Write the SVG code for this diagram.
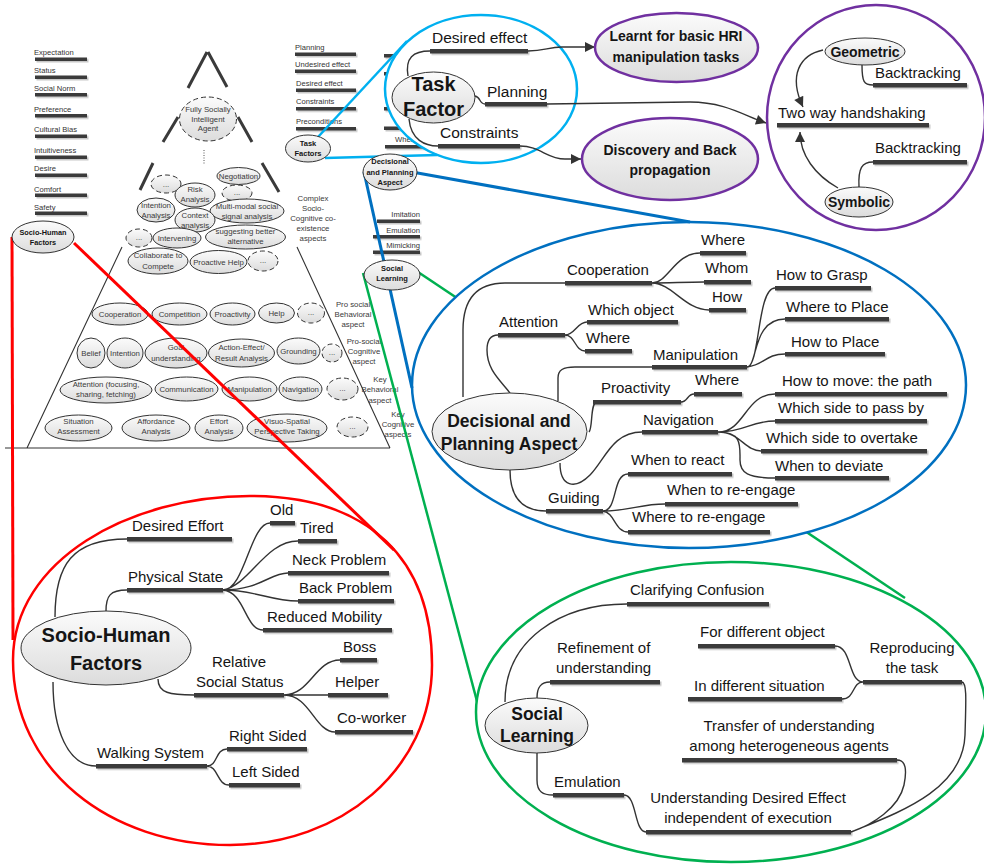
<svg xmlns="http://www.w3.org/2000/svg" width="984" height="867" viewBox="0 0 984 867">
<defs>
<linearGradient id="g" x1="0" y1="0" x2="0" y2="1"><stop offset="0" stop-color="#fbfbfb"/><stop offset="1" stop-color="#dcdcdc"/></linearGradient>
<filter id="sh" x="-5%" y="-60%" width="112%" height="260%"><feDropShadow dx="1.5" dy="1.5" stdDeviation="0.7" flood-color="#000" flood-opacity="0.22"/></filter>
<marker id="ah" viewBox="0 0 10 10" refX="10" refY="5" markerWidth="14" markerHeight="10" orient="auto" markerUnits="userSpaceOnUse"><path d="M0,0 L10,5 L0,10 z" fill="#333"/></marker>
<style>
text{font-family:"Liberation Sans",Arial,sans-serif;fill:#151515}
.s7{font-size:7.6px;fill:#333}
.s8{font-size:7.8px;fill:#3a3a3a}
.s15{font-size:15px}
.b{font-weight:bold}
.m{text-anchor:middle}
.e{text-anchor:end}
.bar{fill:#3a3a3a;filter:url(#sh)}
.el{fill:url(#g);stroke:#333;stroke-width:1}
.dash{stroke-dasharray:5,3}
.cn{fill:none;stroke:#333;stroke-width:1.4}
.pl{fill:none;stroke:#3a3a3a;stroke-width:3}
.tl{fill:none;stroke:#333;stroke-width:1.1}
.pu{stroke:#7030a0;stroke-width:2.5}
</style>
</defs>
<rect width="984" height="867" fill="#fff"/>

<!-- Pyramid -->
<g id="pyramid">
<path class="pl" d="M207,52 L188,88 M208,52 L227,87 M178,117 L163,142 M238,117 L252,142 M153,163 L140,190 M262,163 L279,192"/>
<path d="M204,150 L204,164" stroke="#555" stroke-width="1" stroke-dasharray="1,1.5"/>
<path class="tl" d="M122,247 L27,448 M297,247 L390,448 M5,448 L390,448"/>
<g id="p-agent"><ellipse class="el dash" cx="208" cy="119" rx="28.5" ry="22"/><text class="s8 m" x="208" y="112">Fully Socially</text><text class="s8 m" x="208" y="121.5">Intelligent</text><text class="s8 m" x="208" y="131">Agent</text></g>
<g id="p-d1"><ellipse class="el dash" cx="166" cy="184" rx="15" ry="9"/><text class="s8 m" x="166" y="187">...</text></g>
<g id="p-risk"><ellipse class="el" cx="195" cy="195" rx="20" ry="12"/><text class="s8 m" x="195" y="192">Risk</text><text class="s8 m" x="195" y="202">Analysis</text></g>
<g id="p-neg"><ellipse class="el" cx="238.5" cy="176" rx="21.5" ry="8.5"/><text class="s8 m" x="238.5" y="179">Negotiation</text></g>
<g id="p-d2"><ellipse class="el dash" cx="237" cy="193" rx="15" ry="8"/><text class="s8 m" x="237" y="195">...</text></g>
<g id="p-int"><ellipse class="el" cx="156" cy="210" rx="19" ry="12"/><text class="s8 m" x="156" y="207.5">Intention</text><text class="s8 m" x="156" y="217.5">Analysis</text></g>
<g id="p-multi"><ellipse class="el" cx="247" cy="211" rx="37" ry="12"/><text class="s8 m" x="247" y="208.5">Multi-modal social</text><text class="s8 m" x="247" y="218.5">signal analysis</text></g>
<g id="p-ctx"><ellipse class="el" cx="195" cy="220" rx="20" ry="12"/><text class="s8 m" x="195" y="217.5">Context</text><text class="s8 m" x="195" y="227.5">analysis</text></g>
<g id="p-d3"><ellipse class="el dash" cx="139" cy="238" rx="13" ry="9"/><text class="s8 m" x="139" y="240">...</text></g>
<g id="p-interv"><ellipse class="el" cx="177" cy="238" rx="24" ry="10"/><text class="s8 m" x="177" y="241">Intervening</text></g>
<g id="p-sugg"><ellipse class="el" cx="245.5" cy="237" rx="40" ry="12"/><text class="s8 m" x="245.5" y="233.5">suggesting better</text><text class="s8 m" x="245.5" y="243.5">alternative</text></g>
<g id="p-collab"><ellipse class="el" cx="158" cy="261" rx="30" ry="13"/><text class="s8 m" x="158" y="257.5">Collaborate to</text><text class="s8 m" x="158" y="268.5">Compete</text></g>
<g id="p-proh"><ellipse class="el" cx="218.5" cy="262" rx="28.5" ry="11.5"/><text class="s8 m" x="218.5" y="265">Proactive Help</text></g>
<g id="p-d4"><ellipse class="el dash" cx="263" cy="261" rx="15" ry="10"/><text class="s8 m" x="263" y="263">...</text></g>
<g id="p-complex"><text class="s8 m" x="313" y="201">Complex</text><text class="s8 m" x="313" y="211">Socio-</text><text class="s8 m" x="313" y="221">Cognitive co-</text><text class="s8 m" x="313" y="231">existence</text><text class="s8 m" x="313" y="241">aspects</text></g>
<!-- row 1 -->
<g id="r1-coop"><ellipse class="el" cx="120" cy="314" rx="28" ry="11"/><text class="s8 m" x="120" y="317">Cooperation</text></g>
<g id="r1-comp"><ellipse class="el" cx="179.5" cy="314" rx="27.5" ry="11"/><text class="s8 m" x="179.5" y="317">Competition</text></g>
<g id="r1-proa"><ellipse class="el" cx="232.5" cy="314" rx="22.5" ry="11"/><text class="s8 m" x="232.5" y="317">Proactivity</text></g>
<g id="r1-help"><ellipse class="el" cx="276.5" cy="313" rx="18" ry="10"/><text class="s8 m" x="276.5" y="316">Help</text></g>
<g id="r1-d"><ellipse class="el dash" cx="311" cy="313" rx="13.5" ry="10"/><text class="s8 m" x="311" y="315">...</text></g>
<g id="r1-lab"><text class="s8 m" x="353" y="307">Pro social</text><text class="s8 m" x="353" y="317">Behavioral</text><text class="s8 m" x="353" y="327">aspect</text></g>
<!-- row 2 -->
<g id="r2-bel"><ellipse class="el" cx="91" cy="353" rx="14" ry="15"/><text class="s8 m" x="91" y="356">Belief</text></g>
<g id="r2-int"><ellipse class="el" cx="125" cy="353" rx="18" ry="15"/><text class="s8 m" x="125" y="356">Intention</text></g>
<g id="r2-goal"><ellipse class="el" cx="176" cy="353" rx="31" ry="15"/><text class="s8 m" x="176" y="350">Goal</text><text class="s8 m" x="176" y="361">understanding</text></g>
<g id="r2-act"><ellipse class="el" cx="241.5" cy="353" rx="33" ry="14"/><text class="s8 m" x="241.5" y="350">Action-Effect/</text><text class="s8 m" x="241.5" y="361">Result Analysis</text></g>
<g id="r2-gr"><ellipse class="el" cx="298.5" cy="351" rx="21.5" ry="13"/><text class="s8 m" x="298.5" y="354">Grounding</text></g>
<g id="r2-d"><ellipse class="el dash" cx="332" cy="353" rx="10" ry="9"/><text class="s8 m" x="332" y="355">...</text></g>
<g id="r2-lab"><text class="s8 m" x="364" y="344">Pro-social</text><text class="s8 m" x="364" y="354">Cognitive</text><text class="s8 m" x="364" y="364">aspect</text></g>
<!-- row 3 -->
<g id="r3-att"><ellipse class="el" cx="106" cy="390" rx="46" ry="13"/><text class="s8 m" x="106" y="387">Attention (focusing,</text><text class="s8 m" x="106" y="397">sharing, fetching)</text></g>
<g id="r3-com"><ellipse class="el" cx="186.5" cy="389" rx="31.5" ry="12"/><text class="s8 m" x="186.5" y="392">Communication</text></g>
<g id="r3-man"><ellipse class="el" cx="249.5" cy="389" rx="27.5" ry="12"/><text class="s8 m" x="249.5" y="392">Manipulation</text></g>
<g id="r3-nav"><ellipse class="el" cx="300.5" cy="389" rx="21.5" ry="12"/><text class="s8 m" x="300.5" y="392">Navigation</text></g>
<g id="r3-d"><ellipse class="el dash" cx="342.5" cy="389" rx="15.5" ry="11"/><text class="s8 m" x="342.5" y="391">...</text></g>
<g id="r3-lab"><text class="s8 m" x="380" y="382">Key</text><text class="s8 m" x="380" y="392">Behavioral</text><text class="s8 m" x="380" y="403">aspect</text></g>
<!-- row 4 -->
<g id="r4-sit"><ellipse class="el" cx="78.5" cy="428" rx="33.5" ry="13"/><text class="s8 m" x="78.5" y="423.5">Situation</text><text class="s8 m" x="78.5" y="434">Assessment</text></g>
<g id="r4-aff"><ellipse class="el" cx="156" cy="428" rx="34" ry="13"/><text class="s8 m" x="156" y="423.5">Affordance</text><text class="s8 m" x="156" y="434">Analysis</text></g>
<g id="r4-eff"><ellipse class="el" cx="219" cy="428" rx="24" ry="13"/><text class="s8 m" x="219" y="423.5">Effort</text><text class="s8 m" x="219" y="434">Analysis</text></g>
<g id="r4-vis"><ellipse class="el" cx="287" cy="428" rx="40" ry="14"/><text class="s8 m" x="287" y="423.5">Visuo-Spatial</text><text class="s8 m" x="287" y="434">Perspective Taking</text></g>
<g id="r4-d"><ellipse class="el dash" cx="352.5" cy="427" rx="15.5" ry="10"/><text class="s8 m" x="352.5" y="429">...</text></g>
<g id="r4-lab"><text class="s8 m" x="398" y="416.5">Key</text><text class="s8 m" x="398" y="426.5">Cognitive</text><text class="s8 m" x="398" y="436.5">aspects</text></g>
</g>

<!-- small lists -->
<g id="list-socio">
<text class="s7" x="34" y="55">Expectation</text><rect class="bar" x="35" y="57.5" width="52" height="3.5"/>
<text class="s7" x="34" y="73">Status</text><rect class="bar" x="35" y="75.5" width="52" height="3.5"/>
<text class="s7" x="34" y="91">Social Norm</text><rect class="bar" x="35" y="93" width="52" height="3.5"/>
<text class="s7" x="34" y="112">Preference</text><rect class="bar" x="35" y="114" width="52" height="3.5"/>
<text class="s7" x="34" y="132">Cultural Bias</text><rect class="bar" x="35" y="134.5" width="52" height="3.5"/>
<text class="s7" x="34" y="152.5">Intuitiveness</text><rect class="bar" x="35" y="155.5" width="52" height="3.5"/>
<text class="s7" x="34" y="170.5">Desire</text><rect class="bar" x="35" y="173.5" width="52" height="3.5"/>
<text class="s7" x="34" y="191.5">Comfort</text><rect class="bar" x="35" y="193.5" width="52" height="3.5"/>
<text class="s7" x="34" y="210">Safety</text><rect class="bar" x="35" y="211.5" width="52" height="3.5"/>
</g>
<g id="list-task">
<text class="s7" x="295" y="50">Planning</text><rect class="bar" x="295" y="52.5" width="61" height="3.5"/>
<text class="s7" x="295" y="67">Undesired effect</text><rect class="bar" x="295" y="69.5" width="61" height="3.5"/>
<text class="s7" x="296" y="86">Desired effect</text><rect class="bar" x="296" y="88.5" width="60" height="3.5"/>
<text class="s7" x="296" y="104">Constraints</text><rect class="bar" x="296" y="107" width="60" height="3.5"/>
<text class="s7" x="296" y="124">Preconditions</text><rect class="bar" x="296" y="127" width="60" height="3.5"/>
</g>
<g id="list-hidden">
<rect class="bar" x="384" y="54" width="60" height="3.5"/>
<rect class="bar" x="384" y="72" width="60" height="3.5"/>
<rect class="bar" x="384" y="90" width="60" height="3.5"/>
<rect class="bar" x="384" y="107" width="60" height="3.5"/>
<rect class="bar" x="384" y="126.5" width="60" height="3.5"/>
<text class="s7" x="395" y="141.5">Where</text><rect class="bar" x="385" y="145" width="50" height="3.5"/>
</g>
<g id="list-social">
<text class="s7 e" x="420" y="217">Imitation</text><rect class="bar" x="377" y="219.5" width="43" height="3.5"/>
<text class="s7 e" x="420" y="232.5">Emulation</text><rect class="bar" x="373" y="235" width="47" height="3.5"/>
<text class="s7 e" x="420" y="248">Mimicking</text><rect class="bar" x="373" y="250.5" width="47" height="3.5"/>
</g>

<!-- connectors between areas -->
<g id="connectors">
<path d="M418,272 L905,598" stroke="#00b050" stroke-width="2.5" fill="none"/>
<path d="M363,273 L478,705" stroke="#00b050" stroke-width="2.5" fill="none"/>
</g>

<!-- Task Factor area -->
<g id="task-factor-area">
<ellipse cx="481" cy="89" rx="96" ry="74" fill="#fff" stroke="#00b0f0" stroke-width="2.5"/>
<path class="cn" d="M408,76 C405,58 413,51 430,51 M475,96 C481,97 479,104 485,104 M409,119 C411,140 425,146 438,146"/>
<g id="task-factor"><ellipse class="el" cx="433.5" cy="97.5" rx="41.5" ry="25.5"/><text class="b m" font-size="20" x="433.5" y="91">Task</text><text class="b m" font-size="20" x="433.5" y="116">Factor</text></g>
<g id="tf-desired"><text font-size="15.5" x="432" y="43">Desired effect</text><rect class="bar" x="430" y="49" width="98" height="4.5"/></g>
<g id="tf-planning"><text font-size="15.5" x="487" y="97">Planning</text><rect class="bar" x="485" y="102" width="62" height="4.5"/></g>
<g id="tf-constraints"><text font-size="15.5" x="440" y="138">Constraints</text><rect class="bar" x="438" y="144" width="82" height="4.5"/></g>
</g>

<!-- Blue area -->
<g id="decisional-area">
<ellipse cx="689" cy="385" rx="277" ry="163" fill="#fff" stroke="#0070c0" stroke-width="2.5"/>
<path class="cn" d="M463,397 L463,330 C463,297 478,283 505,283 L565,283
M652,283 C668,283 675,253 700,253 M652,283 C670,283 685,282 704,282 M652,283 C672,283 685,310 709,310
M510,393 C500,380 487,370 487,350 C487,340 490,335 498,335
M565,335 C575,335 577,322 587,322 M565,335 C575,335 575,351 585,351
M558,401 L558,378 C558,370 563,367 575,367 L652,367
M747,367 C760,367 757,288 775,288 M747,367 C758,366 752,319 785,319 M747,367 C765,365 765,354 785,354
M589,432 C593,428 590,402 597,402 M681,402 C688,402 687,394 694,394
M560,463 C560,487 575,490 590,475 C605,460 612,432 642,432
M718,432 C745,432 745,394 775,394 M718,432 C745,432 750,421 775,421 M718,432 C740,432 745,451 761,451 M718,432 C742,432 740,445 740,460 C740,473 748,478 775,478
M510,470 C510,498 522,511 546,511
M603,511 C618,511 612,474 628,474 M603,511 C630,511 640,504 665,504 M603,511 C615,513 615,532 628,532"/>
<g id="dpa-big"><ellipse class="el" cx="509.5" cy="431.5" rx="77.5" ry="38.5"/><text class="b m" font-size="17.5" x="509" y="427">Decisional and</text><text class="b m" font-size="17.5" x="509" y="450">Planning Aspect</text></g>
<g id="d-coop"><text class="s15" x="567" y="275">Cooperation</text><rect class="bar" x="565" y="281" width="87" height="4.5"/></g>
<g id="d-where1"><text class="s15" x="701" y="245">Where</text><rect class="bar" x="700" y="251" width="46" height="4.5"/></g>
<g id="d-whom"><text class="s15" x="705" y="273">Whom</text><rect class="bar" x="704" y="280" width="47" height="4.5"/></g>
<g id="d-how"><text class="s15" x="712" y="302">How</text><rect class="bar" x="709" y="308" width="37" height="4.5"/></g>
<g id="d-att"><text class="s15" x="499" y="327">Attention</text><rect class="bar" x="498" y="333" width="67" height="4.5"/></g>
<g id="d-which"><text class="s15" x="588" y="315">Which object</text><rect class="bar" x="587" y="320" width="91" height="4.5"/></g>
<g id="d-where2"><text class="s15" x="586" y="343">Where</text><rect class="bar" x="585" y="349" width="47" height="4.5"/></g>
<g id="d-man"><text class="s15" x="653" y="360">Manipulation</text><rect class="bar" x="652" y="365" width="95" height="4.5"/></g>
<g id="d-grasp"><text class="s15" x="776" y="280">How to Grasp</text><rect class="bar" x="775" y="286" width="96" height="4.5"/></g>
<g id="d-wplace"><text class="s15" x="786" y="312">Where to Place</text><rect class="bar" x="785" y="317" width="104" height="4.5"/></g>
<g id="d-hplace"><text class="s15" x="791" y="347">How to Place</text><rect class="bar" x="785" y="352" width="100" height="4.5"/></g>
<g id="d-proa"><text class="s15" x="601" y="393">Proactivity</text><rect class="bar" x="593" y="400" width="88" height="4.5"/></g>
<g id="d-where3"><text class="s15" x="695" y="385">Where</text><rect class="bar" x="694" y="392" width="48" height="4.5"/></g>
<g id="d-nav"><text class="s15" x="643" y="425">Navigation</text><rect class="bar" x="642" y="430" width="76" height="4.5"/></g>
<g id="d-path"><text class="s15" x="782" y="386">How to move: the path</text><rect class="bar" x="775" y="392" width="172" height="4.5"/></g>
<g id="d-pass"><text class="s15" x="778" y="413">Which side to pass by</text><rect class="bar" x="775" y="419" width="152" height="4.5"/></g>
<g id="d-over"><text class="s15" x="766" y="443">Which side to overtake</text><rect class="bar" x="761" y="449" width="166" height="4.5"/></g>
<g id="d-dev"><text class="s15" x="775" y="471">When to deviate</text><rect class="bar" x="775" y="476" width="114" height="4.5"/></g>
<g id="d-guid"><text class="s15" x="548" y="503">Guiding</text><rect class="bar" x="546" y="509" width="57" height="4.5"/></g>
<g id="d-react"><text class="s15" x="631" y="465">When to react</text><rect class="bar" x="628" y="472" width="104" height="4.5"/></g>
<g id="d-reeng"><text class="s15" x="667" y="495">When to re-engage</text><rect class="bar" x="665" y="502" width="133" height="4.5"/></g>
<g id="d-wreeng"><text class="s15" x="632" y="522">Where to re-engage</text><rect class="bar" x="628" y="530" width="142" height="4.5"/></g>
</g>

<!-- Green area -->
<g id="social-area">
<ellipse cx="731" cy="712" rx="255" ry="150" fill="#fff" stroke="#00b050" stroke-width="2.5"/>
<path class="cn" d="M505,702 C505,640 560,604 627,604 M537,698 C537,688 540,682 550,682
M835,646 C852,646 848,682 863,682 M842,699 C855,699 852,682 863,682
M537,753 L537,780 C537,792 543,795 553,795 M624,795 C637,795 634,832 646,832
M962,682 C967,683 966,700 965,735 C963,790 900,812 851,832
M897,760 C906,760 907,770 904,785 C899,808 872,825 851,832"/>
<g id="sl-big"><ellipse class="el" cx="536.5" cy="725.5" rx="51.5" ry="27.5"/><text class="b m" font-size="17.5" x="537" y="720">Social</text><text class="b m" font-size="17.5" x="537" y="742">Learning</text></g>
<g id="s-clar"><text class="s15" x="630" y="595">Clarifying Confusion</text><rect class="bar" x="627" y="602" width="142" height="4.5"/></g>
<g id="s-ref"><text class="s15" x="557" y="653">Refinement of</text><text class="s15" x="556" y="673">understanding</text><rect class="bar" x="550" y="680" width="110" height="4.5"/></g>
<g id="s-fdo"><text class="s15" x="700" y="637">For different object</text><rect class="bar" x="698" y="644" width="137" height="4.5"/></g>
<g id="s-ids"><text class="s15" x="694" y="691">In different situation</text><rect class="bar" x="688" y="697" width="154" height="4.5"/></g>
<g id="s-rep"><text class="s15 m" x="912" y="653">Reproducing</text><text class="s15 m" x="912" y="673">the task</text><rect class="bar" x="863" y="680" width="99" height="4.5"/></g>
<g id="s-trans"><text class="s15 m" x="789" y="731">Transfer of understanding</text><text class="s15 m" x="789" y="751">among heterogeneous agents</text><rect class="bar" x="682" y="758" width="215" height="4.5"/></g>
<g id="s-emu"><text class="s15" x="554" y="787">Emulation</text><rect class="bar" x="553" y="793" width="71" height="4.5"/></g>
<g id="s-und"><text class="s15 m" x="748" y="803">Understanding Desired Effect</text><text class="s15 m" x="748" y="823">independent of execution</text><rect class="bar" x="646" y="830" width="205" height="4.5"/></g>
</g>

<!-- Red area -->
<g id="socio-area">
<path d="M250,496 C370,496 432,560 432,665 C432,770 340,845 230,845 C110,845 13,770 13,660 C13,560 130,496 250,496 Z" fill="#fff" stroke="#ff0000" stroke-width="2.5"/>
<path class="cn" d="M55,617 C55,565 72,539 127,539 M106,611 C106,596 110,590 127,590
M223,590 C245,590 250,523 270,523 M223,590 C250,585 265,541 298,541 M223,590 C260,590 270,573 288,573 M223,590 C255,590 270,601 298,601 M223,590 C245,592 245,630 263,630
M158,679 C158,693 170,695 194,695
M284,695 C310,695 315,660 340,660 M284,695 L328,695 M284,695 C310,695 315,732 335,732
M53,682 C53,730 68,766 96,766
M207,766 C218,766 215,749 227,749 M207,766 C218,766 217,785 229,785"/>
<g id="shf-big"><ellipse class="el" cx="106" cy="648" rx="85" ry="37"/><text class="b m" font-size="20" x="106" y="642">Socio-Human</text><text class="b m" font-size="20" x="106" y="670">Factors</text></g>
<g id="h-eff"><text class="s15" x="132" y="531">Desired Effort</text><rect class="bar" x="127" y="537" width="105" height="4.5"/></g>
<g id="h-phys"><text class="s15" x="128" y="582">Physical State</text><rect class="bar" x="127" y="588" width="96" height="4.5"/></g>
<g id="h-old"><text class="s15" x="270" y="515">Old</text><rect class="bar" x="270" y="521" width="25" height="4.5"/></g>
<g id="h-tired"><text class="s15" x="300" y="533">Tired</text><rect class="bar" x="298" y="539" width="39" height="4.5"/></g>
<g id="h-neck"><text class="s15" x="292" y="565">Neck Problem</text><rect class="bar" x="288" y="571" width="101" height="4.5"/></g>
<g id="h-back"><text class="s15" x="299" y="593">Back Problem</text><rect class="bar" x="298" y="599" width="96" height="4.5"/></g>
<g id="h-mob"><text class="s15" x="267" y="622">Reduced Mobility</text><rect class="bar" x="263" y="628" width="129" height="4.5"/></g>
<g id="h-rel"><text class="s15 m" x="239" y="667">Relative</text><text class="s15" x="196" y="687">Social Status</text><rect class="bar" x="194" y="693" width="90" height="4.5"/></g>
<g id="h-boss"><text class="s15" x="343" y="652">Boss</text><rect class="bar" x="340" y="658" width="37" height="4.5"/></g>
<g id="h-help"><text class="s15" x="335" y="687">Helper</text><rect class="bar" x="328" y="693" width="60" height="4.5"/></g>
<g id="h-cow"><text class="s15" x="337" y="723">Co-worker</text><rect class="bar" x="335" y="730" width="78" height="4.5"/></g>
<g id="h-walk"><text class="s15" x="97" y="758">Walking System</text><rect class="bar" x="96" y="764" width="111" height="4.5"/></g>
<g id="h-right"><text class="s15" x="229" y="741">Right Sided</text><rect class="bar" x="227" y="747" width="80" height="4.5"/></g>
<g id="h-left"><text class="s15" x="232" y="777">Left Sided</text><rect class="bar" x="229" y="783" width="71" height="4.5"/></g>
</g>

<!-- colored links -->
<g id="links">
<path d="M12,237 L13,640" stroke="#ff0000" stroke-width="3" fill="none"/>
<path d="M74,243 L394,550" stroke="#ff0000" stroke-width="3" fill="none"/>
<path d="M364,172 L412,388" stroke="#0070c0" stroke-width="3" fill="none"/>
<path d="M412,172 L690,222" stroke="#0070c0" stroke-width="3" fill="none"/>
<path d="M318,137 L407,41" stroke="#00b0f0" stroke-width="2.5" fill="none"/>
<path d="M325,158 L437,155" stroke="#00b0f0" stroke-width="2.5" fill="none"/>
</g>

<!-- small root nodes -->
<g id="shf-small"><ellipse class="el" cx="43" cy="237" rx="31" ry="16"/><text class="b m" font-size="7.3" x="43" y="235">Socio-Human</text><text class="b m" font-size="7.3" x="43" y="245">Factors</text></g>
<g id="tf-small"><ellipse class="el" cx="308" cy="148.5" rx="22.5" ry="13.5"/><text class="b m" font-size="7.5" x="308" y="146">Task</text><text class="b m" font-size="7.5" x="308" y="156">Factors</text></g>
<g id="dpa-small"><ellipse class="el" cx="390" cy="172" rx="27" ry="18"/><text class="b m" font-size="7.5" x="390" y="164">Decisional</text><text class="b m" font-size="7.5" x="390" y="175">and Planning</text><text class="b m" font-size="7.5" x="390" y="185">Aspect</text></g>
<g id="sl-small"><ellipse class="el" cx="392" cy="275" rx="28" ry="15"/><text class="b m" font-size="7.5" x="392" y="271">Social</text><text class="b m" font-size="7.5" x="392" y="281">Learning</text></g>

<!-- purple results -->
<g id="purple-area">
<path d="M528,51 C545,51 548,47 562,47 L595,47" class="cn" marker-end="url(#ah)"/>
<path d="M547,104 L690,102 C725,102 745,116 766,123" class="cn" marker-end="url(#ah)"/>
<path d="M520,146 C540,146 547,159 565,159 L581,159" class="cn" marker-end="url(#ah)"/>
<g id="learnt"><ellipse cx="676.5" cy="47.5" rx="81.5" ry="34.5" fill="url(#g)" class="pu"/><text class="b m" font-size="14" x="676" y="41">Learnt for basic HRI</text><text class="b m" font-size="14" x="676" y="62">manipulation tasks</text></g>
<g id="discovery"><ellipse cx="670" cy="159" rx="88" ry="41" fill="url(#g)" class="pu"/><text class="b m" font-size="14" x="670" y="155">Discovery and Back</text><text class="b m" font-size="14" x="670" y="175">propagation</text></g>
<g id="handshake-area">
<ellipse cx="876" cy="117.5" rx="109" ry="112.5" fill="#fff" class="pu"/>
<path class="cn" d="M862,65 C862,82 864,85 873,85 M859,187 C858,168 862,162 873,162"/>
<path class="cn" d="M823,50 C800,55 788,75 803,107" marker-end="url(#ah)"/>
<path class="cn" d="M838,188 C815,175 800,155 800,132" marker-end="url(#ah)"/>
<g id="geometric"><ellipse class="el" cx="865" cy="51.5" rx="40" ry="13.5"/><text class="b m" font-size="14" x="865" y="56.5">Geometric</text></g>
<g id="bt1"><text class="s15" x="875" y="78">Backtracking</text><rect class="bar" x="873" y="83" width="94" height="4.5"/></g>
<g id="twoway"><text class="s15" x="778" y="118">Two way handshaking</text><rect class="bar" x="777" y="123" width="152" height="4.5"/></g>
<g id="bt2"><text class="s15" x="875" y="153">Backtracking</text><rect class="bar" x="873" y="160" width="94" height="4.5"/></g>
<g id="symbolic"><ellipse class="el" cx="859" cy="202" rx="34" ry="15"/><text class="b m" font-size="14" x="859" y="207">Symbolic</text></g>
</g>
</g>
</svg>
